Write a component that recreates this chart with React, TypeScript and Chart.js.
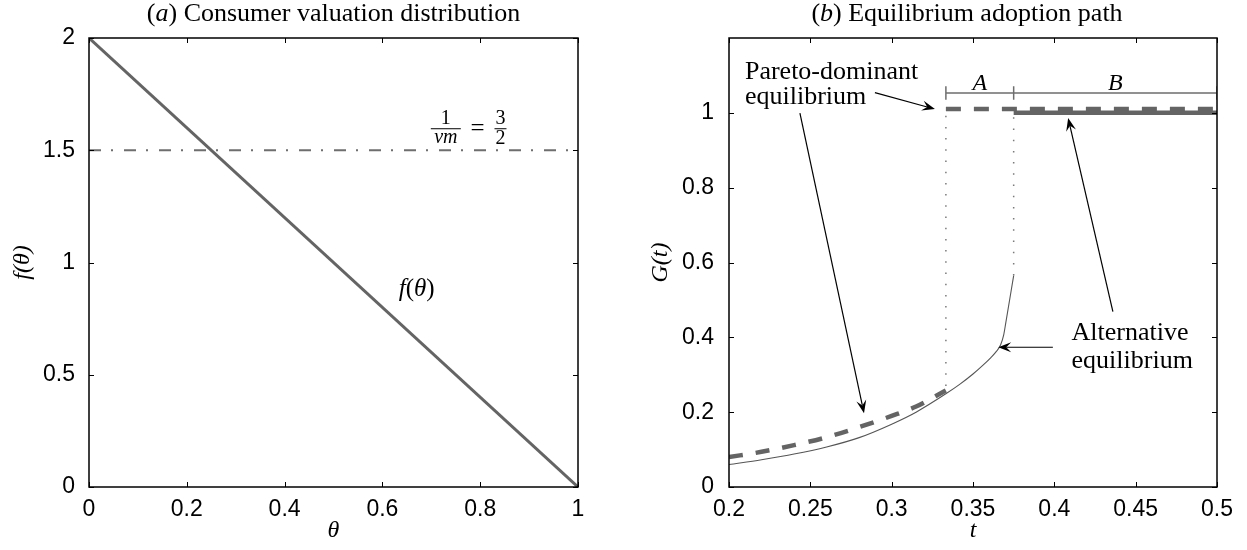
import React, { useEffect, useRef } from 'react';
import { Chart, registerables } from 'chart.js';

Chart.register(...registerables);

// ---------- Panel (a): consumer valuation distribution ----------
const thetaPoints = [0, 1];
const densityValues = [2, 0];
const thresholdTheta = [0, 1];
const thresholdValues = [1.5, 1.5];
const thetaTicks = [0, 0.2, 0.4, 0.6, 0.8, 1];
const thetaTickLabels = ['0', '0.2', '0.4', '0.6', '0.8', '1'];
const fTicks = [0, 0.5, 1, 1.5, 2];
const fTickLabels = ['0', '0.5', '1', '1.5', '2'];

// ---------- Panel (b): equilibrium adoption path ----------
const paretoT = [0.2, 0.22, 0.24, 0.26, 0.28, 0.3, 0.315, 0.3333];
const paretoG = [0.08, 0.094, 0.112, 0.133, 0.16, 0.19, 0.215, 0.258];
const altT = [0.2, 0.22, 0.24, 0.26, 0.28, 0.3, 0.315, 0.3333, 0.342, 0.35, 0.356, 0.361, 0.3645, 0.367, 0.3688, 0.3702, 0.375];
const altG = [0.06, 0.073, 0.088, 0.107, 0.132, 0.168, 0.2, 0.249, 0.275, 0.302, 0.325, 0.346, 0.363, 0.38, 0.405, 0.44, 0.565];
const paretoUpperT = [1 / 3, 0.5];
const paretoUpperG = [1.01, 1.01];
const altUpperT = [0.375, 0.5];
const altUpperG = [1.0, 1.0];
const dropT = [1 / 3, 0.375];
const dropFrom = [0.27, 0.565];
const dropTo = [1.01, 1.0];
const bracketT = [1 / 3, 0.375, 0.5];
const bracketLevel = 1.053;
const bracketCapLow = 1.035;
const bracketCapHigh = 1.071;
const bracketLabels = ['A', 'B'];
const tTicks = [0.2, 0.25, 0.3, 0.35, 0.4, 0.45, 0.5];
const tTickLabels = ['0.2', '0.25', '0.3', '0.35', '0.4', '0.45', '0.5'];
const gTicks = [0, 0.2, 0.4, 0.6, 0.8, 1];
const gTickLabels = ['0', '0.2', '0.4', '0.6', '0.8', '1'];

const GRAY = '#646464';
const SERIF = 'Liberation Serif';
const SANS = 'Liberation Sans';

type Run = { text: string; italic?: boolean; size?: number };

function drawRich(ctx: CanvasRenderingContext2D, runs: Run[], x: number, y: number, align: 'left' | 'center', size: number) {
  let total = 0;
  const widths: number[] = [];
  for (const r of runs) {
    ctx.font = `${r.italic ? 'italic ' : ''}${r.size || size}px "${SERIF}"`;
    const w = ctx.measureText(r.text).width;
    widths.push(w);
    total += w;
  }
  let cx = align === 'center' ? x - total / 2 : x;
  ctx.textAlign = 'left';
  ctx.textBaseline = 'middle';
  ctx.fillStyle = '#000';
  runs.forEach((r, i) => {
    ctx.font = `${r.italic ? 'italic ' : ''}${r.size || size}px "${SERIF}"`;
    ctx.fillText(r.text, cx, y);
    cx += widths[i];
  });
}

function drawArrow(ctx: CanvasRenderingContext2D, x1: number, y1: number, x2: number, y2: number) {
  const ang = Math.atan2(y2 - y1, x2 - x1);
  const len = 13, half = 5, notch = 8;
  const c = Math.cos(ang), s = Math.sin(ang);
  const bx = x2 - c * notch, by = y2 - s * notch;
  ctx.strokeStyle = '#000';
  ctx.fillStyle = '#000';
  ctx.lineWidth = 1.2;
  ctx.beginPath();
  ctx.moveTo(x1, y1);
  ctx.lineTo(bx, by);
  ctx.stroke();
  ctx.beginPath();
  ctx.moveTo(x2, y2);
  ctx.lineTo(x2 - c * len + s * half, y2 - s * len - c * half);
  ctx.lineTo(bx, by);
  ctx.lineTo(x2 - c * len - s * half, y2 - s * len + c * half);
  ctx.closePath();
  ctx.fill();
}

const frameTicksPlugin = {
  id: 'frameTicks',
  afterDatasetsDraw(chart: any) {
    const { ctx, chartArea: a, scales } = chart;
    const xs = scales.x, ys = scales.y;
    const L = 5;
    ctx.save();
    ctx.strokeStyle = '#000';
    ctx.lineWidth = 1;
    ctx.beginPath();
    xs.ticks.forEach((t: any) => {
      const px = Math.round(xs.getPixelForValue(t.value)) + 0.5;
      ctx.moveTo(px, a.bottom); ctx.lineTo(px, a.bottom - L);
      ctx.moveTo(px, a.top); ctx.lineTo(px, a.top + L);
    });
    ys.ticks.forEach((t: any) => {
      const py = Math.round(ys.getPixelForValue(t.value)) + 0.5;
      ctx.moveTo(a.left, py); ctx.lineTo(a.left + L, py);
      ctx.moveTo(a.right, py); ctx.lineTo(a.right - L, py);
    });
    ctx.stroke();
    ctx.lineWidth = 1.5;
    ctx.strokeRect(a.left, a.top, a.right - a.left, a.bottom - a.top);
    ctx.restore();
  },
};

const tickFont = { family: SANS, size: 23, lineHeight: 1 };
const axisTitleFont = { family: SERIF, size: 24, style: 'italic' as const, lineHeight: 1.2 };

function pts(xs: number[], ys: number[]) {
  return xs.map((x, i) => ({ x, y: ys[i] }));
}

function leftConfig(): any {
  const annot = {
    id: 'annotA',
    afterDraw(chart: any) {
      const { ctx, chartArea: a, scales } = chart;
      const X = (v: number) => scales.x.getPixelForValue(v);
      const Y = (v: number) => scales.y.getPixelForValue(v);
      ctx.save();
      drawRich(ctx, [{ text: '(' }, { text: 'a', italic: true }, { text: ') Consumer valuation distribution' }], (a.left + a.right) / 2, 14, 'center', 26);
      // f(theta) label
      drawRich(ctx, [{ text: 'f', italic: true }, { text: '(' }, { text: 'θ', italic: true }, { text: ')' }], X(0.67), Y(0.88), 'center', 25);
      // 1/(nu m) = 3/2
      const barY = Y(1.598);
      const fx = X(0.7297);
      ctx.fillStyle = '#000';
      ctx.textAlign = 'center';
      ctx.textBaseline = 'alphabetic';
      ctx.font = `20px "${SERIF}"`;
      ctx.fillText('1', fx, barY - 4);
      ctx.font = `italic 20px "${SERIF}"`;
      ctx.fillText('νm', fx, barY + 15);
      ctx.strokeStyle = '#000';
      ctx.lineWidth = 1;
      ctx.beginPath();
      ctx.moveTo(fx - 15, barY + 0.5); ctx.lineTo(fx + 15, barY + 0.5);
      ctx.stroke();
      ctx.font = `25px "${SERIF}"`;
      ctx.textBaseline = 'middle';
      ctx.fillText('=', X(0.7945), barY + 1);
      const tx = X(0.8415);
      ctx.textBaseline = 'alphabetic';
      ctx.font = `20px "${SERIF}"`;
      ctx.fillText('3', tx, barY - 4);
      ctx.fillText('2', tx, barY + 16);
      ctx.beginPath();
      ctx.moveTo(tx - 6, barY + 0.5); ctx.lineTo(tx + 6, barY + 0.5);
      ctx.stroke();
      ctx.restore();
    },
  };
  return {
    type: 'line',
    data: {
      datasets: [
        {
          label: 'f(θ)',
          data: pts(thetaPoints, densityValues),
          borderColor: GRAY,
          borderWidth: 3,
          pointRadius: 0,
          fill: false,
        },
        {
          label: '1/(νm) = 3/2',
          data: pts(thresholdTheta, thresholdValues),
          borderColor: '#6e6e6e',
          borderWidth: 2,
          borderDash: [12, 10, 2, 11],
          pointRadius: 0,
          fill: false,
        },
      ],
    },
    options: {
      responsive: false,
      animation: false,
      layout: { padding: { top: 38, right: 62, left: 0, bottom: 0 } },
      plugins: { legend: { display: false }, tooltip: { enabled: false }, title: { display: false } },
      scales: {
        x: {
          type: 'linear',
          min: 0,
          max: 1,
          grid: { display: false },
          border: { display: false },
          afterBuildTicks: (s: any) => { s.ticks = thetaTicks.map((v) => ({ value: v })); },
          afterFit: (s: any) => { s.height = 63; },
          ticks: { autoSkip: false, maxRotation: 0, padding: 3, color: '#000', font: tickFont, callback: (_v: any, i: number) => thetaTickLabels[i] },
          title: { display: true, text: 'θ', color: '#000', font: axisTitleFont, padding: { top: 0, bottom: 5 } },
        },
        y: {
          type: 'linear',
          min: 0,
          max: 2,
          grid: { display: false },
          border: { display: false },
          afterBuildTicks: (s: any) => { s.ticks = fTicks.map((v) => ({ value: v })); },
          afterFit: (s: any) => { s.width = 89; },
          ticks: { autoSkip: false, padding: 6, color: '#000', font: tickFont, callback: (_v: any, i: number) => fTickLabels[i] },
          title: { display: true, text: 'f(θ)', color: '#000', font: axisTitleFont, padding: { top: 8, bottom: 0 } },
        },
      },
    },
    plugins: [frameTicksPlugin, annot],
  };
}

function rightConfig(): any {
  const annot = {
    id: 'annotB',
    afterDraw(chart: any) {
      const { ctx, chartArea: a, scales } = chart;
      const X = (v: number) => scales.x.getPixelForValue(v);
      const Y = (v: number) => scales.y.getPixelForValue(v);
      ctx.save();
      drawRich(ctx, [{ text: '(' }, { text: 'b', italic: true }, { text: ') Equilibrium adoption path' }], (a.left + a.right) / 2 - 6, 14, 'center', 26);
      // bracket labels
      for (let i = 0; i < bracketLabels.length; i++) {
        drawRich(ctx, [{ text: bracketLabels[i], italic: true }], X((bracketT[i] + bracketT[i + 1]) / 2), Y(1.077), 'center', 24);
      }
      // Pareto-dominant label
      drawRich(ctx, [{ text: 'Pareto-dominant' }], X(0.2098), Y(1.11), 'left', 26);
      drawRich(ctx, [{ text: 'equilibrium' }], X(0.2098), Y(1.043), 'left', 26);
      drawArrow(ctx, X(0.2897), Y(1.054), X(0.3266), Y(1.01));
      drawArrow(ctx, X(0.2436), Y(0.999), X(0.283), Y(0.197));
      // Alternative label
      drawRich(ctx, [{ text: 'Alternative' }], X(0.4106), Y(0.412), 'left', 26);
      drawRich(ctx, [{ text: 'equilibrium' }], X(0.4106), Y(0.335), 'left', 26);
      drawArrow(ctx, X(0.3991), Y(0.3735), X(0.3655), Y(0.3735));
      drawArrow(ctx, X(0.436), Y(0.469), X(0.4085), Y(0.986));
      ctx.restore();
    },
  };

  const dropData: any[] = [];
  dropT.forEach((t, i) => {
    dropData.push({ x: t, y: dropFrom[i] }, { x: t, y: dropTo[i] }, { x: t, y: null });
  });
  const bracketData: any[] = [
    { x: bracketT[0], y: bracketLevel },
    { x: bracketT[bracketT.length - 1], y: bracketLevel },
    { x: bracketT[bracketT.length - 1], y: null },
  ];
  bracketT.forEach((t) => {
    bracketData.push({ x: t, y: bracketCapLow }, { x: t, y: bracketCapHigh }, { x: t, y: null });
  });

  return {
    type: 'line',
    data: {
      datasets: [
        {
          label: 'Alternative equilibrium (upper)',
          data: pts(altUpperT, altUpperG),
          borderColor: GRAY,
          borderWidth: 4.5,
          pointRadius: 0,
          fill: false,
        },
        {
          label: 'Pareto-dominant equilibrium (upper)',
          data: pts(paretoUpperT, paretoUpperG),
          borderColor: GRAY,
          borderWidth: 4.5,
          borderDash: [15, 13],
          borderCapStyle: 'butt',
          pointRadius: 0,
          fill: false,
        },
        {
          label: 'Pareto-dominant equilibrium',
          data: pts(paretoT, paretoG),
          borderColor: GRAY,
          borderWidth: 4.5,
          borderDash: [14, 13],
          borderCapStyle: 'butt',
          cubicInterpolationMode: 'monotone',
          pointRadius: 0,
          fill: false,
        },
        {
          label: 'Alternative equilibrium',
          data: pts(altT, altG),
          borderColor: '#555555',
          borderWidth: 1.1,
          cubicInterpolationMode: 'monotone',
          pointRadius: 0,
          fill: false,
        },
        {
          label: 'Intervals',
          data: bracketData,
          borderColor: '#6e6e6e',
          borderWidth: 1.5,
          spanGaps: false,
          pointRadius: 0,
          fill: false,
        },
        {
          label: 'Jumps',
          data: dropData,
          borderColor: '#7a7a7a',
          borderWidth: 1.5,
          borderDash: [1.5, 9.7],
          spanGaps: false,
          pointRadius: 0,
          fill: false,
        },
      ],
    },
    options: {
      responsive: false,
      animation: false,
      layout: { padding: { top: 38, right: 30, left: 0, bottom: 0 } },
      plugins: { legend: { display: false }, tooltip: { enabled: false }, title: { display: false } },
      scales: {
        x: {
          type: 'linear',
          min: 0.2,
          max: 0.5,
          grid: { display: false },
          border: { display: false },
          afterBuildTicks: (s: any) => { s.ticks = tTicks.map((v) => ({ value: v })); },
          afterFit: (s: any) => { s.height = 63; },
          ticks: { autoSkip: false, maxRotation: 0, padding: 3, color: '#000', font: tickFont, callback: (_v: any, i: number) => tTickLabels[i] },
          title: { display: true, text: 't', color: '#000', font: axisTitleFont, padding: { top: 0, bottom: 5 } },
        },
        y: {
          type: 'linear',
          min: 0,
          max: 1.2,
          grid: { display: false },
          border: { display: false },
          afterBuildTicks: (s: any) => { s.ticks = gTicks.map((v) => ({ value: v })); },
          afterFit: (s: any) => { s.width = 89; },
          ticks: { autoSkip: false, padding: 7, color: '#000', font: tickFont, callback: (_v: any, i: number) => gTickLabels[i] },
          title: { display: true, text: 'G(t)', color: '#000', font: axisTitleFont, padding: { top: 6, bottom: 0 } },
        },
      },
    },
    plugins: [frameTicksPlugin, annot],
  };
}

export default function App() {
  const leftRef = useRef<HTMLCanvasElement>(null);
  const rightRef = useRef<HTMLCanvasElement>(null);
  useEffect(() => {
    const c1 = new Chart(leftRef.current as HTMLCanvasElement, leftConfig());
    const c2 = new Chart(rightRef.current as HTMLCanvasElement, rightConfig());
    return () => {
      c1.destroy();
      c2.destroy();
    };
  }, []);
  return (
    <div style={{ position: 'absolute', left: 0, top: 0, width: 1247, height: 550, background: '#fff' }}>
      <canvas ref={leftRef} width={640} height={550} style={{ position: 'absolute', left: 0, top: 0 }} />
      <canvas ref={rightRef} width={607} height={550} style={{ position: 'absolute', left: 640, top: 0 }} />
    </div>
  );
}
